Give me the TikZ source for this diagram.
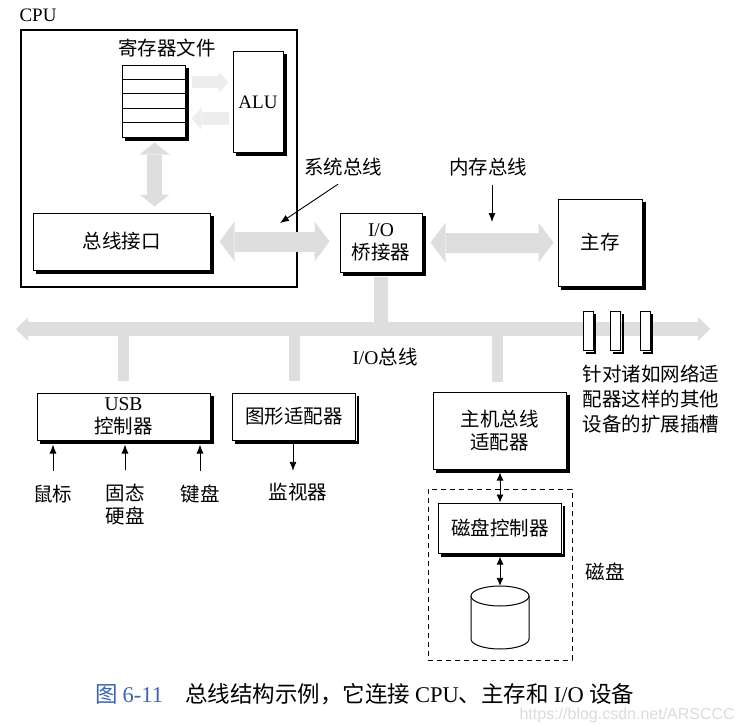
\documentclass[tikz,border=0pt]{standalone}
\usepackage{fontspec}
\setmainfont{Liberation Serif}
\newfontfamily\cjk{Noto Sans CJK SC}
\newfontfamily\wmfont{Liberation Sans}
\usetikzlibrary{arrows.meta,calc}
\definecolor{busgray}{gray}{0.87}
\definecolor{capblue}{RGB}{60,100,175}
\newcommand{\lat}[1]{{\rmfamily #1}}
\begin{document}
\begin{tikzpicture}[x=1pt,y=-1pt,
  every node/.style={font=\cjk\fontsize{19.5}{23}\selectfont, inner sep=0pt},
  latfont/.style={font=\rmfamily\fontsize{19}{22}\selectfont},
  box/.style={draw, fill=white, line width=1pt, align=center},
  slot/.style={draw, fill=white, line width=1pt, minimum width=10pt, minimum height=39pt},
  shadowline/.style={draw=black, line width=2.6pt, line join=miter},
  slotshadow/.style={draw=black, line width=2pt, line join=miter},
  ptr/.style={line width=0.9pt, -{Latex[length=9pt,width=7pt]}},
  dptr/.style={line width=0.9pt, {Latex[length=8pt,width=7pt]}-{Latex[length=8pt,width=7pt]}},
  fatbus/.style={draw=busgray, line width=20pt,
    {Triangle[length=15pt,width=40pt,line width=0pt]}-{Triangle[length=15pt,width=40pt,line width=0pt]}},
  vbus/.style={draw=busgray, line width=15pt,
    {Triangle[length=12pt,width=30pt,line width=0pt]}-{Triangle[length=12pt,width=30pt,line width=0pt]}},
  iobusline/.style={draw=busgray, line width=14pt,
    {Triangle[length=12pt,width=24pt,line width=0pt]}-{Triangle[length=12pt,width=24pt,line width=0pt]}},
  drop/.style={draw=busgray, line width=11pt},
  faintbus/.style={draw=busgray!55, line width=12pt, -{Triangle[length=10pt,width=22pt,line width=0pt]}},
]
\useasboundingbox (0,0) rectangle (737,725);

% CPU
\node[latfont] (cpulbl) at (38,15) {CPU};
\node[draw, line width=1.6pt, minimum width=276pt, minimum height=257pt] (cpu) at (159,158.5) {};
\node (reglbl) at (167,48) {寄存器文件};
\node[box, minimum width=63pt, minimum height=71pt] (reg) at (153.5,101.5) {};
\foreach \k in {1,...,4}{
  \draw[line width=0.8pt] ([yshift=-\k*14.2pt]reg.north west) -- ([yshift=-\k*14.2pt]reg.north east);
}
\node[box, latfont, minimum width=50pt, minimum height=100pt] (alu) at (258,102) {ALU};
\node[box, minimum width=177pt, minimum height=57pt] (bif) at (121.5,241.5) {总线接口};

% bridge, memory
\node[box, minimum width=82pt, minimum height=59pt] (bridge) at (381,242.5) {\lat{I/O}\\桥接器};
\node[box, minimum width=84pt, minimum height=87pt] (mem) at (600,242.5) {主存};

% internal buses
\draw[faintbus, shorten <=6pt, shorten >=4pt] ([yshift=19pt]reg.east) -- ([yshift=19pt]reg.east -| alu.west);
\draw[faintbus, shorten <=4pt, shorten >=6pt] ([yshift=-17pt]reg.east -| alu.west) -- ([yshift=-17pt]reg.east);
\draw[vbus, shorten <=5pt, shorten >=6pt] ([xshift=1pt]reg.south) -- ([xshift=1pt]reg.south |- bif.north);
\draw[fatbus, shorten <=9pt, shorten >=10pt] (bif.east) -- (bif.east -| bridge.west);
\draw[fatbus, shorten <=8pt, shorten >=4pt] (bridge.east) -- (bridge.east -| mem.west);

% labels with pointers
\node (sbl) at (343,167) {系统总线};
\node (mbl) at (488,167) {内存总线};
\coordinate (sbtip) at (280,223);
\coordinate (mbtip) at (492,222);
\draw[ptr] ([xshift=-5pt,yshift=-8pt]sbl.south) -- (sbtip);
\draw[ptr] ([yshift=-9pt]mbtip |- mbl.south) -- (mbtip);

% I/O bus
\coordinate (iobL) at (16,329);
\coordinate (iobR) at (710,329);
\draw[drop, line width=14pt] ([yshift=-4pt]bridge.south) -- (bridge.south |- iobL);
\draw[iobusline] (iobL) -- (iobR);
\node (iolbl) at (385,357) {\lat{I/O}总线};

% expansion slots
\node[slot] (s1) at (588,331) {};
\node[slot] (s2) at (615.5,331) {};
\node[slot] (s3) at (645,331) {};
\foreach \n in {s1,s2,s3}{
  \draw[slotshadow] ([xshift=1.5pt,yshift=-3pt]\n.north east) -- ([xshift=1.5pt,yshift=-1.5pt]\n.south east) -- ([xshift=3pt,yshift=-1.5pt]\n.south west);
}
\node[align=left, font=\cjk\fontsize{19.5}{25}\selectfont] (slbl) at (651,399) {针对诸如网络适\\配器这样的其他\\设备的扩展插槽};

% I/O devices
\node[box, minimum width=173pt, minimum height=47pt] (usb) at (123.5,416.5) {\lat{USB}\\控制器};
\node[box, minimum width=123pt, minimum height=47pt] (gfx) at (294,416.5) {图形适配器};
\node[box, minimum width=133pt, minimum height=77pt] (hba) at (499.5,430.5) {主机总线\\适配器};

\draw[drop] ([yshift=-7pt]usb.north |- iobL) -- ([yshift=12pt]usb.north);
\draw[drop] ([yshift=-7pt]gfx.north |- iobL) -- ([yshift=12pt]gfx.north);
\draw[drop] ([xshift=-2pt,yshift=-7pt]hba.north |- iobL) -- ([xshift=-2pt,yshift=10pt]hba.north);

% USB peripherals
\node (mouse) at (53,494) {鼠标};
\node[align=center, font=\cjk\fontsize{19.5}{23}\selectfont] (ssd) at (125,505) {固态\\硬盘};
\node (kbd) at (200,494) {键盘};
\draw[ptr] ([yshift=14pt]mouse.north) -- ([yshift=-4pt]mouse.north |- usb.south);
\draw[ptr] ([yshift=14pt]ssd.north) -- ([yshift=-4pt]ssd.north |- usb.south);
\draw[ptr] ([yshift=14pt]kbd.north) -- ([yshift=-4pt]kbd.north |- usb.south);

% monitor
\node (mon) at (298,492) {监视器};
\draw[ptr] ([xshift=-1pt,yshift=-3pt]gfx.south) -- ([xshift=-1pt,yshift=12pt]gfx.south |- mon.north);

% disk
\node[draw, dashed, line width=0.9pt, dash pattern=on 5pt off 4pt, minimum width=144pt, minimum height=171pt] (diskgrp) at (500,574.5) {};
\node[box, minimum width=123pt, minimum height=50pt] (dc) at (500,528) {磁盘控制器};
\node[minimum width=58pt, minimum height=63pt] (disk) at (500,617.5) {};
\draw[line width=1pt, fill=white] (471,596) -- (471,639) arc[start angle=180, end angle=0, x radius=29, y radius=10] -- (529,596);
\draw[line width=1pt] (500,596) ellipse[x radius=29, y radius=10];
\draw[dptr] ([yshift=-3pt]dc.north |- hba.south) -- (dc.north);
\draw[dptr] ([yshift=-3pt]dc.south) -- (disk.north);
\node (disklbl) at (605,572) {磁盘};

% box shadows
\foreach \n in {reg,alu,bif,bridge,mem,usb,gfx,hba,dc}{
  \draw[shadowline] ([xshift=1.8pt,yshift=-3pt]\n.north east) -- ([xshift=1.8pt,yshift=-1.8pt]\n.south east) -- ([xshift=3pt,yshift=-1.8pt]\n.south west);
}

% caption
\node[anchor=west, font=\cjk\fontsize{22.5}{26}\selectfont] (cap) at (95,694)
  {\textcolor{capblue}{图 \lat{6-11}}\hspace{22pt}总线结构示例，它连接 \lat{CPU}、主存和 \lat{I/O} 设备};
\node[anchor=east, font=\wmfont\fontsize{16}{19}\selectfont, text=gray!28] (wm) at (735,715) {https://blog.csdn.net/ARSCCC};
\end{tikzpicture}
\end{document}
